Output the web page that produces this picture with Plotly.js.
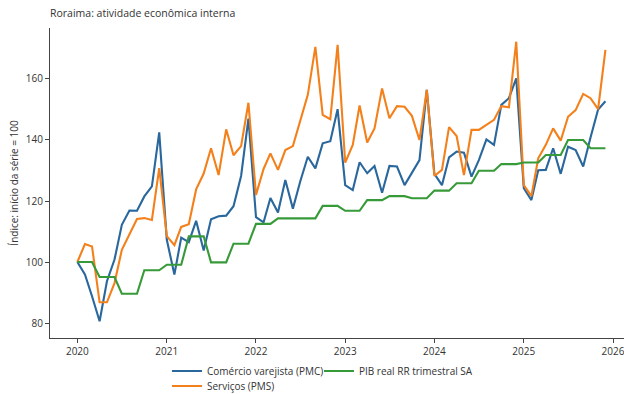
<!DOCTYPE html>
<html>
<head>
<meta charset="utf-8">
<script src="https://cdn.plot.ly/plotly-3.0.1.min.js"></script>
<style>html,body{margin:0;padding:0;background:#fff;}#chart{width:624px;height:394px;}</style>
</head>
<body>
<div id="chart"></div>
<script>
// Monthly series, Jan 2020 .. Dec 2025
const startYear = 2020;
const nMonths = 72;
const pmc = [100, 95.9, 88.8, 80.6, 93.7, 100.8, 112.2, 116.9, 116.8, 121.5, 124.8, 142.5,
  107.3, 95.9, 108, 106.5, 113.5, 103.8, 114, 115, 115.2, 118.3, 128.2, 147,
  114.7, 113, 121, 116.2, 126.9, 117.5, 126.4, 134.5, 130.7, 138.9, 139.6, 150.1,
  125.2, 123.6, 132.7, 129.1, 131.5, 122.7, 131.5, 131.3, 125.2, 129.1, 133.4, 156.4,
  128.9, 125.2, 134.3, 136.2, 135.8, 128, 133.4, 140.2, 138.4, 151.5, 153.7, 160.2,
  124.2, 120.3, 130.1, 130.2, 137.3, 128.9, 137.8, 136.7, 131.3, 140.8, 150, 152.7];
const pms = [100, 105.9, 105.1, 86.8, 86.8, 93.1, 104, 108.9, 114.1, 114.4, 113.8, 130.8,
  108.5, 105.5, 111.5, 112.4, 123.8, 129, 137.3, 128.5, 143.5, 135, 138, 152.2,
  122, 130.5, 135.6, 130.2, 136.7, 138, 146.6, 154.8, 170.5, 148.2, 146.8, 171.2,
  132.6, 138.4, 151.3, 139.2, 143.8, 156.9, 147.1, 151.1, 150.9, 147.9, 140, 156.4,
  128.2, 130.2, 144.2, 141.3, 128.5, 143.3, 143.3, 144.9, 146.6, 151.1, 150.7, 172.2,
  125.2, 121.6, 134, 138.4, 143.8, 139.8, 147.6, 149.8, 155.1, 153.7, 150.1, 169.5];
const pib = [100, 100, 100, 95.1, 95.1, 95.1, 89.6, 89.6, 89.6, 97.3, 97.3, 97.3,
  99.1, 99.1, 99.1, 108.4, 108.4, 108.4, 99.9, 99.9, 99.9, 106, 106, 106,
  112.5, 112.5, 112.5, 114.3, 114.3, 114.3, 114.3, 114.3, 114.3, 118.4, 118.4, 118.4,
  116.8, 116.8, 116.8, 120.3, 120.3, 120.3, 121.6, 121.6, 121.6, 120.9, 120.9, 120.9,
  123.4, 123.4, 123.4, 125.8, 125.8, 125.8, 129.9, 129.9, 129.9, 132.1, 132.1, 132.1,
  132.6, 132.6, 132.6, 135.1, 135.1, 135.1, 140, 140, 140, 137.3, 137.3, 137.3];
const seriesNames = ['Comércio varejista (PMC)', 'Serviços (PMS)', 'PIB real RR trimestral SA'];
const yTicks = [80, 100, 120, 140, 160];
const xTickYears = [2020, 2021, 2022, 2023, 2024, 2025, 2026];

const dates = [];
for (let i = 0; i < nMonths; i++) {
  const y = startYear + Math.floor(i / 12);
  const m = (i % 12) + 1;
  dates.push(y + '-' + String(m).padStart(2, '0') + '-01');
}

const FONT = 'Open Sans, DejaVu Sans, sans-serif';
const TXT = '#333333';

const traces = [
  {x: dates, y: pmc, name: seriesNames[0], type: 'scatter', mode: 'lines',
   line: {color: '#2a679c', width: 2.1}, legend: 'legend'},
  {x: dates, y: pms, name: seriesNames[1], type: 'scatter', mode: 'lines',
   line: {color: '#f3801b', width: 2.1}, legend: 'legend3'},
  {x: dates, y: pib, name: seriesNames[2], type: 'scatter', mode: 'lines',
   line: {color: '#379a38', width: 2.1}, legend: 'legend2'}
];

const legBase = {orientation: 'v', xanchor: 'left', yanchor: 'middle',
  font: {family: FONT, size: 10, color: TXT}, bgcolor: 'rgba(0,0,0,0)', borderwidth: 0};

const layout = {
  width: 624, height: 394,
  margin: {l: 50, r: 0, t: 28, b: 56, autoexpand: false},
  paper_bgcolor: '#ffffff', plot_bgcolor: '#ffffff',
  font: {family: FONT, size: 10, color: TXT},
  title: {text: 'Roraima: atividade econômica interna', x: 50 / 624, xanchor: 'left',
    y: 1 - 13 / 394, yanchor: 'middle', font: {family: FONT, size: 10.5, color: TXT}},
  xaxis: {
    type: 'date', range: ['2019-09-11', '2026-02-15'],
    tickvals: xTickYears.map(y => y + '-01-01'), ticktext: xTickYears.map(String),
    ticklabeloverflow: 'allow',
    showgrid: false, zeroline: false, showline: true, linecolor: '#444', linewidth: 1,
    ticks: 'outside', ticklen: 4, tickcolor: '#444', tickfont: {size: 10, color: TXT}
  },
  yaxis: {
    range: [75.1, 176.7], tickvals: yTicks,
    showgrid: false, zeroline: false, showline: true, linecolor: '#444', linewidth: 1,
    ticks: 'outside', ticklen: 4, tickcolor: '#444', tickfont: {size: 10, color: TXT},
    title: {text: 'Índice: início da série = 100', standoff: 5, font: {size: 10, color: TXT}}
  },
  showlegend: true,
  legend: Object.assign({}, legBase, {x: 0.2038, y: -0.1065}),
  legend2: Object.assign({}, legBase, {x: 0.4686, y: -0.1065}),
  legend3: Object.assign({}, legBase, {x: 0.2038, y: -0.1548})
};

Plotly.newPlot('chart', traces, layout, {displayModeBar: false, staticPlot: true});
</script>
</body>
</html>
